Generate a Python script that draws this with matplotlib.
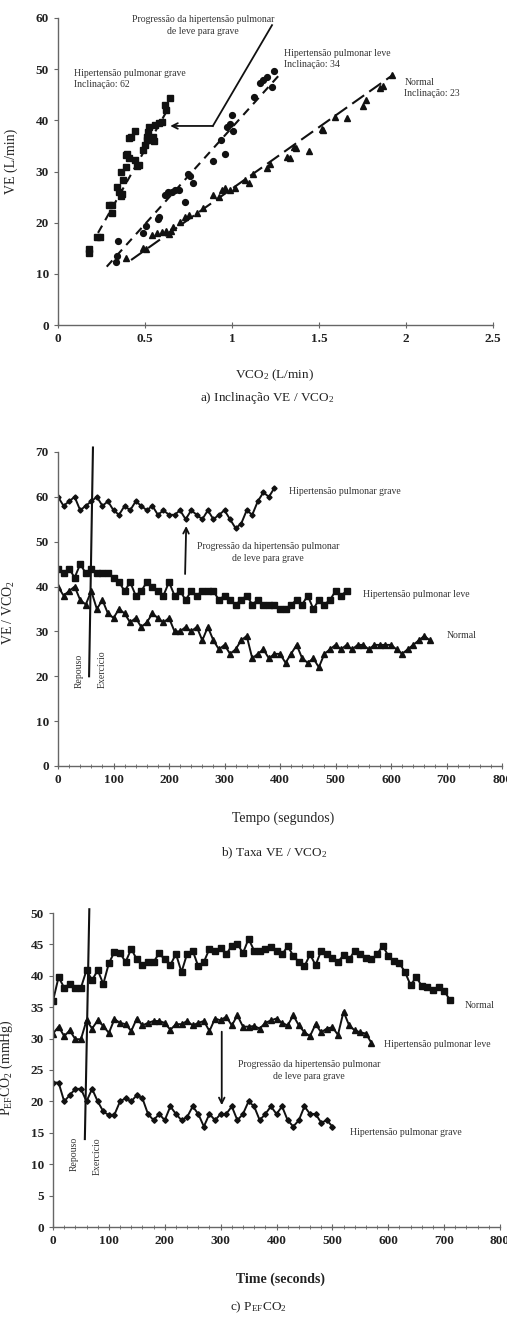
import matplotlib
matplotlib.use("Agg")
import matplotlib.pyplot as plt
import numpy as np
from matplotlib.ticker import FuncFormatter, MultipleLocator

# ---------------- data: a) VE vs VCO2 ----------------
grave_a_x = [0.18, 0.18, 0.226, 0.24, 0.295, 0.31, 0.31, 0.34, 0.35, 0.36, 0.368, 0.364,
             0.376, 0.39, 0.39, 0.395, 0.406, 0.41, 0.422, 0.44, 0.44, 0.456, 0.467, 0.49,
             0.502, 0.51, 0.513, 0.52, 0.525, 0.548, 0.552, 0.56, 0.578, 0.596, 0.613, 0.621, 0.644]
grave_a_y = [14.0, 14.8, 17.2, 17.2, 23.4, 23.4, 21.8, 27.0, 26.0, 25.2, 25.6, 29.9,
             28.4, 30.9, 33.2, 33.5, 32.6, 36.5, 36.7, 37.9, 32.2, 31.0, 31.2, 34.2,
             35.2, 36.1, 36.8, 37.8, 38.6, 36.8, 35.9, 39.1, 39.4, 39.7, 43.0, 42.0, 44.3]
leve_a_x = [0.333, 0.34, 0.347, 0.49, 0.506, 0.577, 0.582, 0.615, 0.635, 0.653, 0.672, 0.697,
            0.73, 0.749, 0.76, 0.778, 0.889, 0.935, 0.96, 0.973, 0.988, 0.998, 1.008, 1.126,
            1.161, 1.18, 1.2, 1.228, 1.241]
leve_a_y = [12.4, 13.4, 16.5, 17.9, 19.3, 20.8, 21.2, 25.4, 26.0, 26.0, 26.4, 26.4,
            24.1, 29.6, 29.2, 27.8, 32.1, 36.1, 33.5, 38.7, 39.2, 41.0, 37.9, 44.5,
            47.2, 47.9, 48.4, 46.5, 49.7]
norm_a_x = [0.39, 0.49, 0.506, 0.54, 0.571, 0.596, 0.621, 0.64, 0.648, 0.663, 0.7, 0.73,
            0.755, 0.797, 0.832, 0.893, 0.927, 0.94, 0.96, 0.989, 1.017, 1.075, 1.1, 1.123,
            1.2, 1.22, 1.314, 1.333, 1.356, 1.368, 1.442, 1.515, 1.525, 1.59, 1.66, 1.75,
            1.77, 1.85, 1.87, 1.92]
norm_a_y = [13.1, 15.0, 14.8, 17.5, 17.9, 18.2, 18.4, 17.8, 18.4, 19.2, 20.2, 21.2,
            21.5, 21.8, 22.8, 25.4, 25.1, 26.4, 26.7, 26.4, 26.7, 28.3, 27.7, 29.6,
            30.6, 31.5, 32.9, 32.6, 34.8, 34.5, 34.1, 38.4, 38.1, 40.7, 40.5, 42.8,
            44.0, 46.3, 46.7, 48.8]
# trend lines (end points)
grave_fit_x, grave_fit_y = [0.23, 0.62], [18.0, 41.5]
leve_fit_x, leve_fit_y = [0.28, 1.27], [11.4, 48.8]
norm_fit_x, norm_fit_y = [0.42, 1.93], [12.7, 49.0]
# pointer line "progressao" (a)
prog_a_x = [1.23, 0.89]
prog_a_y = [58.6, 38.9]

# ---------------- data: b) VE/VCO2 over time ----------------
grave_b = [60, 58, 59, 60, 57, 58, 59, 60, 58, 59, 57, 56, 58, 57, 59, 58, 57, 58, 56, 57,
           56, 56, 57, 55, 57, 56, 55, 57, 55, 56, 57, 55, 53, 54, 57, 56, 59, 61, 60, 62]
leve_b = [44, 43, 44, 42, 45, 43, 44, 43, 43, 43, 42, 41, 39, 41, 38, 39, 41, 40, 39, 38,
          41, 38, 39, 37, 39, 38, 39, 39, 39, 37, 38, 37, 36, 37, 38, 36, 37, 36, 36, 36,
          35, 35, 36, 37, 36, 38, 35, 37, 36, 37, 39, 38, 39]
norm_b = [40, 38, 39, 40, 37, 36, 39, 35, 37, 34, 33, 35, 34, 32, 33, 31, 32, 34, 33, 32,
          33, 30, 30, 31, 30, 31, 28, 31, 28, 26, 27, 25, 26, 28, 29, 24, 25, 26, 24, 25,
          25, 23, 25, 27, 24, 23, 24, 22, 25, 26, 27, 26, 27, 26, 27, 27, 26, 27, 27, 27,
          27, 26, 25, 26, 27, 28, 29, 28]
t_grave_b = np.arange(len(grave_b)) * 10
t_leve_b = np.arange(len(leve_b)) * 10
t_norm_b = np.arange(len(norm_b)) * 10
phase_b_x, phase_b_y = [63, 56], [71, 20]
arrow_b = {"from": (229, 42.8), "to": (231, 53.5)}

# ---------------- data: c) PEFCO2 over time ----------------
norm_c = [36, 39.8, 38.1, 38.7, 38.1, 38.1, 40.9, 39.3, 40.9, 38.7, 42, 43.8, 43.6, 42.2,
          44.3, 42.6, 41.7, 42.2, 42.2, 43.6, 42.6, 41.7, 43.5, 40.6, 43.5, 44, 41.5, 42.2,
          44.3, 44, 44.4, 43.4, 44.8, 45.1, 43.6, 45.9, 44, 43.9, 44.2, 44.6, 44, 43.4,
          44.7, 43.2, 42.2, 41.5, 43.4, 41.7, 44, 43.4, 42.8, 42.2, 43.3, 42.6, 44, 43.4,
          42.8, 42.6, 43.4, 44.8, 43.2, 42.3, 42, 40.6, 38.5, 39.8, 38.4, 38.2, 37.8, 38.2,
          37.6, 36.2]
leve_c = [30.8, 31.9, 30.4, 31.3, 29.9, 29.9, 32.9, 31.6, 32.9, 32.0, 30.9, 33.1, 32.5,
          32.3, 31.2, 33.2, 32.1, 32.5, 32.8, 32.8, 32.5, 31.4, 32.3, 32.3, 32.8, 32.1, 32.5,
          32.8, 31.2, 33.2, 32.9, 33.5, 32.1, 33.7, 31.9, 31.9, 32.0, 31.6, 32.5, 32.9, 33.2,
          32.5, 32.1, 33.7, 32.1, 31.0, 30.4, 32.3, 31.0, 31.6, 31.8, 30.6, 34.3, 32.1, 31.3,
          31.0, 30.8, 29.3]
grave_c = [23, 23, 20, 21, 22, 22, 20, 22, 20, 18.4, 17.8, 17.9, 20, 20.5, 20, 21, 20.5, 18,
           17, 18, 17, 19.2, 18, 17, 17.5, 19.2, 18, 16, 18, 17, 18, 18, 19.2, 17, 18, 20,
           19.2, 17, 18, 19.2, 18, 19.2, 17, 16, 17, 19.2, 18, 18, 16.6, 17, 16]
t_norm_c = np.arange(len(norm_c)) * 10
t_leve_c = np.arange(len(leve_c)) * 10
t_grave_c = np.arange(len(grave_c)) * 10
phase_c_x, phase_c_y = [65, 57], [50.6, 14]
arrow_c = {"from": (302, 31.1), "to": (302, 19.4)}

PROG = "Progressão da hipertensão pulmonar\nde leve para grave"
INK = "#111111"
TXT = "#333333"
AXC = "#666666"
NOTE = 7

plt.rcParams.update({
    "font.family": "Liberation Serif",
    "mathtext.fontset": "custom",
    "mathtext.rm": "Liberation Serif",
    "mathtext.it": "Liberation Serif:italic",
    "mathtext.bf": "Liberation Serif:bold",
})

W, H = 507, 1329
fig = plt.figure(figsize=(W / 100, H / 100), dpi=100)


def px_axes(left, right, top, bottom):
    return fig.add_axes([left / W, 1 - bottom / H, (right - left) / W, (bottom - top) / H])


def style(ax):
    for s in ("top", "right"):
        ax.spines[s].set_visible(False)
    for s in ("left", "bottom"):
        ax.spines[s].set_color(AXC)
        ax.spines[s].set_linewidth(1.0)
    ax.tick_params(axis="both", colors=AXC, labelcolor="#222222", labelsize=9.5, width=0.8)
    ax.tick_params(axis="y", direction="out", length=3)
    ax.tick_params(axis="x", direction="inout", length=4)
    for t in ax.get_xticklabels() + ax.get_yticklabels():
        t.set_fontweight("bold")
    ax.patch.set_alpha(0)


fmt = FuncFormatter(lambda v, p: f"{v:g}")

# ---------- a) ----------
ax = px_axes(58, 493, 18, 325)
ax.set_xlim(0, 2.5)
ax.set_ylim(0, 60)
ax.xaxis.set_major_locator(MultipleLocator(0.5))
ax.yaxis.set_major_locator(MultipleLocator(10))
ax.xaxis.set_major_formatter(fmt)
ax.plot(grave_fit_x, grave_fit_y, ls=(0, (4, 3)), color=INK, lw=1.5)
ax.plot(leve_fit_x, leve_fit_y, ls=(0, (4, 3)), color=INK, lw=1.5)
ax.plot(norm_fit_x, norm_fit_y, ls=(0, (7, 3)), color=INK, lw=1.5)
ax.plot(grave_a_x, grave_a_y, "s", color=INK, ms=4.5)
ax.plot(leve_a_x, leve_a_y, "o", color=INK, ms=4.2)
ax.plot(norm_a_x, norm_a_y, "^", color=INK, ms=4.2)
ax.plot(prog_a_x, prog_a_y, color=INK, lw=1.3, clip_on=False)
ax.annotate("", xy=(0.645, 38.9), xytext=(prog_a_x[1], prog_a_y[1]),
            arrowprops=dict(arrowstyle="->", color=INK, lw=1.3, shrinkA=0, shrinkB=0))
ax.text(0.833, 58.5, PROG, ha="center", va="center", fontsize=NOTE, color=TXT,
        linespacing=1.5)
ax.text(0.092, 48.0, "Hipertensão pulmonar grave\nInclinação: 62", ha="left", va="center",
        fontsize=NOTE, color=TXT, linespacing=1.3)
ax.text(1.30, 52.0, "Hipertensão pulmonar leve\nInclinação: 34", ha="left", va="center",
        fontsize=NOTE, color=TXT, linespacing=1.3)
ax.text(1.99, 46.4, "Normal\nInclinação: 23", ha="left", va="center",
        fontsize=NOTE, color=TXT, linespacing=1.3)
style(ax)
ax.set_xlabel("VCO$_2$ (L/min)", fontsize=9.5, color="#222222")
ax.xaxis.set_label_coords(0.497, -0.14)
ax.set_ylabel("VE (L/min)", fontsize=10, color="#222222")
ax.yaxis.set_label_coords(-0.092, 0.534)
fig.text(267 / W, 1 - 398 / H, "a) Inclinação VE / VCO$_2$", ha="center", va="center",
         fontsize=9.5, color="#222222")

# ---------- b) ----------
ax = px_axes(58, 502, 452, 766)
ax.set_xlim(0, 800)
ax.set_ylim(0, 70)
ax.xaxis.set_major_locator(MultipleLocator(100))
ax.xaxis.set_minor_locator(MultipleLocator(20))
ax.yaxis.set_major_locator(MultipleLocator(10))
ax.plot(t_grave_b, grave_b, "-D", color=INK, lw=1.4, ms=2.6)
ax.plot(t_leve_b, leve_b, "-s", color=INK, lw=1.4, ms=4.2)
ax.plot(t_norm_b, norm_b, "-^", color=INK, lw=1.4, ms=4.0)
ax.plot(phase_b_x, phase_b_y, color=INK, lw=1.5, clip_on=False)
ax.annotate("", xy=arrow_b["to"], xytext=arrow_b["from"],
            arrowprops=dict(arrowstyle="->", color=INK, lw=1.3, shrinkA=0, shrinkB=0))
ax.text(378, 47.6, PROG, ha="center", va="center", fontsize=NOTE, color=TXT, linespacing=1.4)
ax.text(416, 61.3, "Hipertensão pulmonar grave", ha="left", va="center", fontsize=NOTE, color=TXT)
ax.text(550, 38.3, "Hipertensão pulmonar leve", ha="left", va="center", fontsize=NOTE, color=TXT)
ax.text(700, 29.2, "Normal", ha="left", va="center", fontsize=NOTE, color=TXT)
ax.text(38, 21.3, "Repouso", rotation=90, ha="center", va="center", fontsize=NOTE, color=TXT)
ax.text(79, 21.6, "Exercício", rotation=90, ha="center", va="center", fontsize=NOTE, color=TXT)
style(ax)
ax.tick_params(axis="x", which="minor", direction="inout", length=3, colors=AXC)
ax.set_xlabel("Tempo (segundos)", fontsize=10, color="#222222")
ax.xaxis.set_label_coords(0.507, -0.146)
ax.set_ylabel("VE / VCO$_2$", fontsize=10, color="#222222")
ax.yaxis.set_label_coords(-0.092, 0.49)
fig.text(274 / W, 1 - 853 / H, "b) Taxa VE / VCO$_2$", ha="center", va="center",
         fontsize=9.5, color="#222222")

# ---------- c) ----------
ax = px_axes(53, 500, 913, 1227)
ax.set_xlim(0, 800)
ax.set_ylim(0, 50)
ax.xaxis.set_major_locator(MultipleLocator(100))
ax.xaxis.set_minor_locator(MultipleLocator(20))
ax.yaxis.set_major_locator(MultipleLocator(5))
ax.plot(t_norm_c, norm_c, "-s", color=INK, lw=1.4, ms=4.6)
ax.plot(t_leve_c, leve_c, "-^", color=INK, lw=1.4, ms=4.0)
ax.plot(t_grave_c, grave_c, "-D", color=INK, lw=1.4, ms=2.8)
ax.plot(phase_c_x, phase_c_y, color=INK, lw=1.5, clip_on=False)
ax.annotate("", xy=arrow_c["to"], xytext=arrow_c["from"],
            arrowprops=dict(arrowstyle="->", color=INK, lw=1.3, shrinkA=0, shrinkB=0))
ax.text(458, 24.9, PROG, ha="center", va="center", fontsize=NOTE, color=TXT, linespacing=1.4)
ax.text(737, 35.2, "Normal", ha="left", va="center", fontsize=NOTE, color=TXT)
ax.text(592, 29.0, "Hipertensão pulmonar leve", ha="left", va="center", fontsize=NOTE, color=TXT)
ax.text(531, 15.1, "Hipertensão pulmonar grave", ha="left", va="center", fontsize=NOTE, color=TXT)
ax.text(38, 11.6, "Repouso", rotation=90, ha="center", va="center", fontsize=NOTE, color=TXT)
ax.text(79, 11.2, "Exercício", rotation=90, ha="center", va="center", fontsize=NOTE, color=TXT)
style(ax)
ax.tick_params(axis="x", which="minor", direction="inout", length=3, colors=AXC)
ax.set_xlabel("Time (seconds)", fontsize=10, fontweight="bold", color="#222222")
ax.xaxis.set_label_coords(0.51, -0.146)
ax.set_ylabel("P$_{\\mathrm{EF}}$CO$_2$ (mmHg)", fontsize=10, color="#222222")
ax.yaxis.set_label_coords(-0.085, 0.506)
fig.text(258 / W, 1 - 1307 / H, "c) P$_{\\mathrm{EF}}$CO$_2$", ha="center", va="center",
         fontsize=9.5, color="#222222")

fig.savefig("out.png", dpi=100, facecolor="white")
